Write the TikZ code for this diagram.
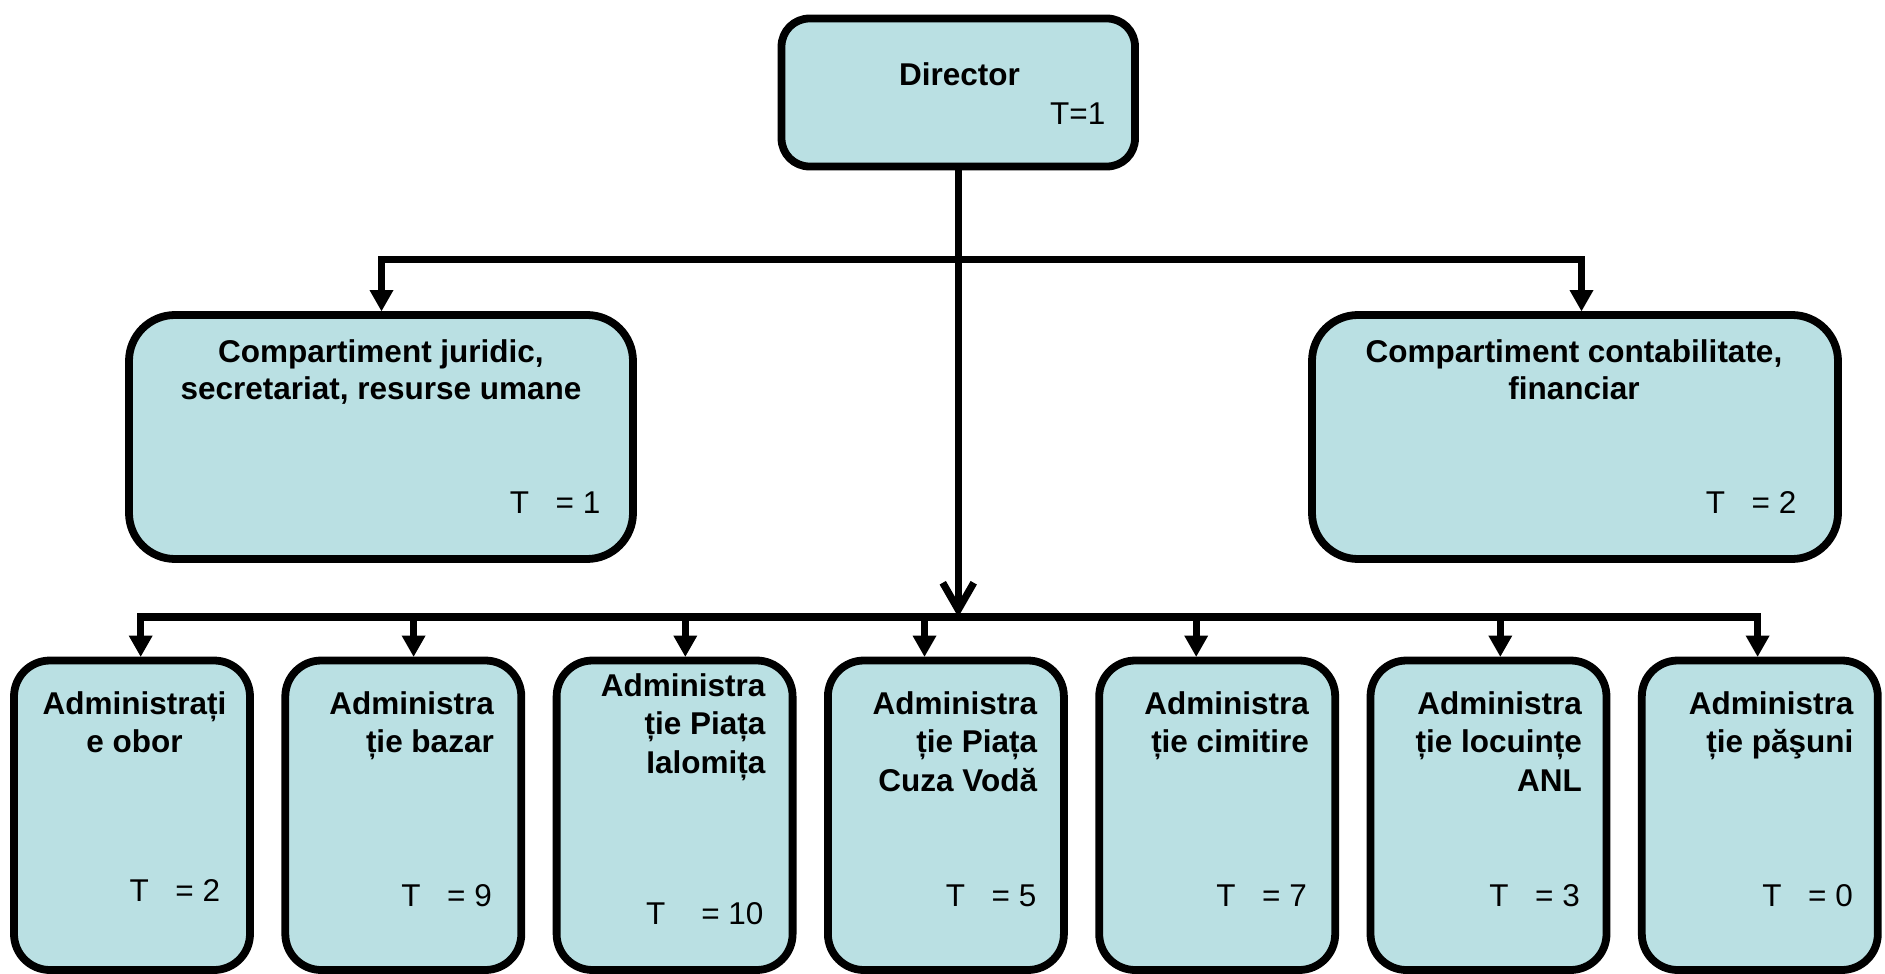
\documentclass[tikz,border=0pt]{standalone}
\usepackage{fontspec}
\setmainfont{Liberation Sans}
\usetikzlibrary{arrows.meta,calc}
\definecolor{boxfill}{RGB}{186,224,227}
% invisible strut fixing the height of a label's first line
\newcommand\capstrut{\rule{0pt}{24pt}}

\begin{document}
\begin{tikzpicture}[x=1pt,y=-1pt,
  unitbox/.style={draw=black, line width=7.8pt, fill=boxfill, inner sep=0pt},
  topbox/.style={unitbox, rounded corners=28pt},
  midbox/.style={unitbox, rounded corners=46pt, minimum height=244pt},
  lowbox/.style={unitbox, rounded corners=36pt, minimum width=236pt, minimum height=309.5pt},
  title/.style={font=\fontsize{31.5}{38.5}\selectfont\bfseries, inner sep=0pt},
  midtitle/.style={font=\fontsize{31.5}{37}\selectfont\bfseries, inner sep=0pt, align=center, anchor=north},
  lowtitle/.style={title, align=right, anchor=north east},
  count/.style={font=\fontsize{31.5}{38}\selectfont, inner sep=0pt, anchor=base east},
  wire/.style={draw=black, line width=7.2pt},
  tri/.style={wire, -{Triangle[length=21pt,width=24pt,line width=0pt]}},
  barb/.style={wire, -{Straight Barb[length=27pt,width=31pt]}}
]
\useasboundingbox (0,0) rectangle (1885,974);

% ---- director ----
\node[topbox, minimum width=353.5pt, minimum height=148pt] (dir) at (958.25,92.5) {};
\node[title, anchor=base] (dirname) at (959.4,85.5) {Director};
\node[count] (dirT) at (1105.5,124) {T=1};

% ---- departments ----
\node[midbox, minimum width=504pt] (jur) at (381,437) {};
\node[midtitle] (jurname) at (381,338) {\capstrut Compartiment juridic,\\secretariat, resurse umane};
\node[count] (jurT) at (600.5,513) {T\hspace{26.5pt}= 1};

\node[midbox, minimum width=526pt] (fin) at (1575,437) {};
\node[midtitle] (finname) at (1574,338) {\capstrut Compartiment contabilitate,\\financiar};
\node[count] (finT) at (1796.5,513) {T\hspace{26.5pt}= 2};

% ---- administrations ----
\node[lowbox] (b1) at (132,815.25) {};
\node[lowbox] (b2) at (403.3,815.25) {};
\node[lowbox] (b3) at (674.6,815.25) {};
\node[lowbox] (b4) at (945.9,815.25) {};
\node[lowbox] (b5) at (1217.2,815.25) {};
\node[lowbox] (b6) at (1488.5,815.25) {};
\node[lowbox] (b7) at (1759.8,815.25) {};

\node[title, align=center, anchor=north] (b1name) at (134.5,690) {\capstrut Administrați\\e obor};
\node[lowtitle] (b2name) at (494,690) {\capstrut Administra\\ție bazar};
\node[lowtitle] (b3name) at (765.6,672) {\capstrut Administra\\ție Piața\\Ialomița};
\node[lowtitle] (b4name) at (1037.3,690) {\capstrut Administra\\ție Piața\\Cuza Vodă};
\node[lowtitle] (b5name) at (1309,690) {\capstrut Administra\\ție cimitire};
\node[lowtitle] (b6name) at (1582,690) {\capstrut Administra\\ție locuințe\\ANL};
\node[lowtitle] (b7name) at (1853.6,690) {\capstrut Administra\\ție păşuni};

\node[count] (b1T) at (220.3,901.6) {T\hspace{26.5pt}= 2};
\node[count] (b2T) at (492,906.5) {T\hspace{26.5pt}= 9};
\node[count] (b3T) at (763.7,924.5) {T\hspace{36pt}= 10};
\node[count] (b4T) at (1036.5,906.5) {T\hspace{26.5pt}= 5};
\node[count] (b5T) at (1307,906.5) {T\hspace{26.5pt}= 7};
\node[count] (b6T) at (1580,906.5) {T\hspace{26.5pt}= 3};
\node[count] (b7T) at (1853,906.5) {T\hspace{26.5pt}= 0};

% ---- connectors ----
\coordinate (busTop) at (958.25,259.5);
\coordinate (busLow) at (958.25,617);

\draw[barb] (dir.south) -- (busLow);

\draw[tri] (busTop) -| ($(jur.north)+(0.5,0)$);
\draw[tri] (busTop) -| ($(fin.north)+(6.5,0)$);

\draw[tri] (busLow) -| ($(b1.north)+(8.7,0)$);
\draw[tri] (busLow) -| ($(b2.north)+(10.3,0)$);
\draw[tri] (busLow) -| ($(b3.north)+(10.7,0)$);
\draw[tri] (busLow) -| ($(b4.north)+(-21.4,0)$);
\draw[tri] (busLow) -| ($(b5.north)+(-21,0)$);
\draw[tri] (busLow) -| ($(b6.north)+(11.8,0)$);
\draw[tri] (busLow) -| ($(b7.north)+(-2.2,0)$);
\end{tikzpicture}
\end{document}
